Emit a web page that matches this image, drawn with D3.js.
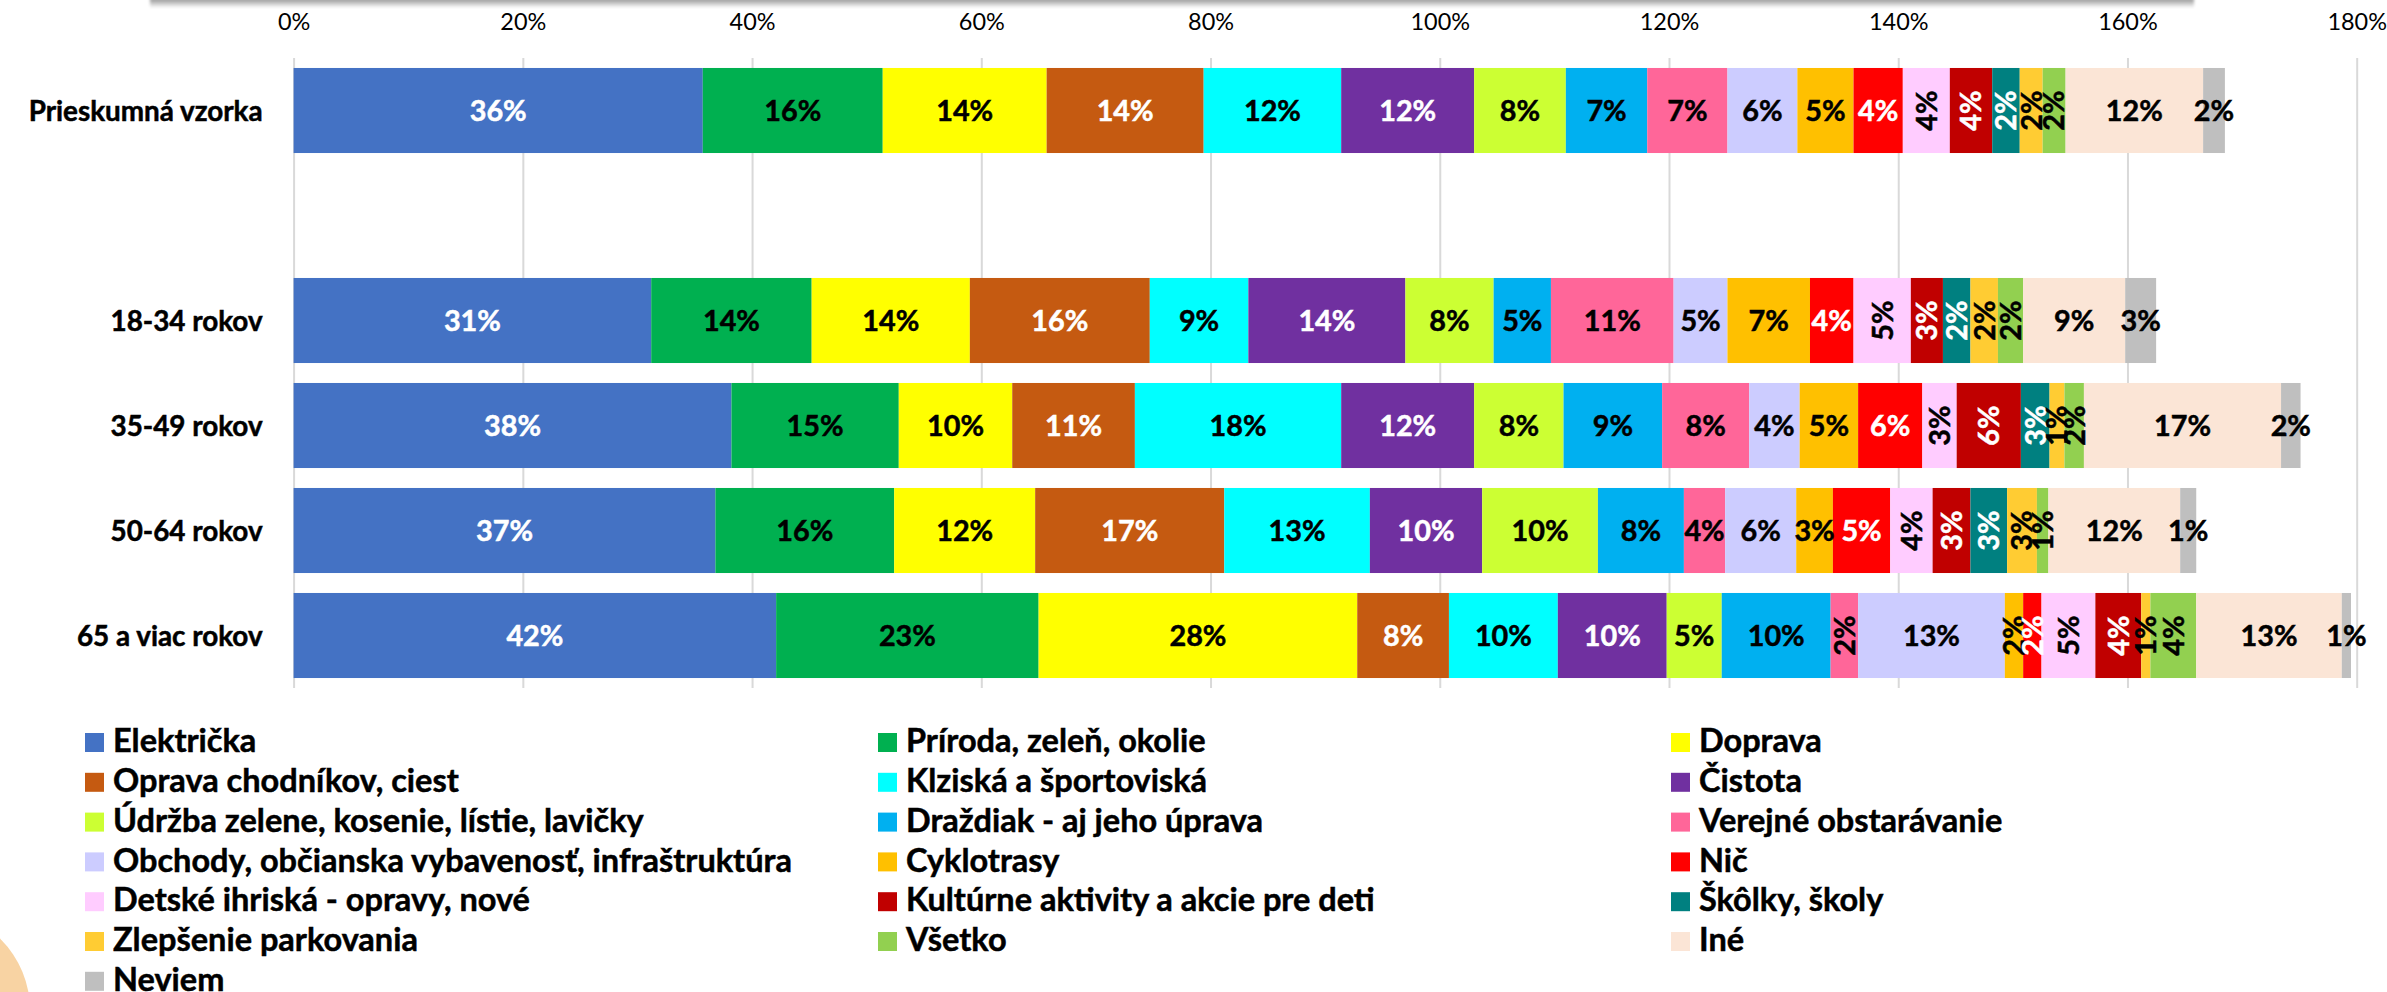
<!DOCTYPE html>
<html>
<head>
<meta charset="utf-8">
<script src="https://cdn.jsdelivr.net/npm/d3@7"></script>
<style>
  body { margin: 0; background: #fff; }
  #chart text { font-family: Lato, "Open Sans", sans-serif; }
</style>
</head>
<body>
<div id="chart"></div>
<script>
// kategórie (prázdna = medzera medzi vzorkou a vekovými skupinami)
const categories = ["Prieskumná vzorka", "", "18-34 rokov", "35-49 rokov", "50-64 rokov", "65 a viac rokov"]

const series = [
  "Električka", "Príroda, zeleň, okolie", "Doprava",
  "Oprava chodníkov, ciest", "Klziská a športoviská", "Čistota",
  "Údržba zelene, kosenie, lístie, lavičky", "Draždiak - aj jeho úprava", "Verejné obstarávanie",
  "Obchody, občianska vybavenosť, infraštruktúra", "Cyklotrasy", "Nič",
  "Detské ihriská - opravy, nové", "Kultúrne aktivity a akcie pre deti", "Škôlky, školy",
  "Zlepšenie parkovania", "Všetko", "Iné",
  "Neviem"
]

const colors = [
  "#4472C4", "#00B050", "#FFFF00",
  "#C55A11", "#00FFFF", "#7030A0",
  "#CCFF33", "#00B0F0", "#FF6699",
  "#CCCCFF", "#FFC000", "#FF0000",
  "#FFCCFF", "#C00000", "#008080",
  "#FFCC33", "#92D050", "#FBE5D6",
  "#BFBFBF"
]

// hodnoty v % (poradie ako series)
const vzorka = [35.7, 15.7, 14.3, 13.7, 12.0, 11.6, 8.0, 7.1, 7.0, 6.1, 4.9, 4.3, 4.1, 3.7, 2.4, 2.0, 2.0, 12.0, 1.9]
const vek18_34 = [31.2, 14.0, 13.8, 15.7, 8.6, 13.7, 7.7, 5.0, 10.7, 4.7, 7.2, 3.8, 5.0, 2.8, 2.4, 2.4, 2.2, 8.9, 2.7]
const vek35_49 = [38.2, 14.6, 9.9, 10.7, 18.0, 11.6, 7.8, 8.6, 7.6, 4.4, 5.1, 5.6, 3.0, 5.6, 2.5, 1.3, 1.7, 17.2, 1.7]
const vek50_64 = [36.8, 15.6, 12.3, 16.5, 12.7, 9.8, 10.1, 7.5, 3.6, 6.2, 3.2, 5.0, 3.7, 3.3, 3.2, 2.6, 1.0, 11.5, 1.4]
const vek65 = [42.1, 22.9, 27.8, 8.0, 9.5, 9.5, 4.8, 9.5, 2.4, 12.8, 1.6, 1.6, 4.7, 4.0, 0, 0.8, 4.0, 12.7, 0.8]
const empty = series.map(() => 0)

const values = [vzorka, empty, vek18_34, vek35_49, vek50_64, vek65]
const xTicks = [0, 20, 40, 60, 80, 100, 120, 140, 160, 180]

// štýl popisov
const whiteLabels = [0, 3, 5, 11, 13, 14]
const rotatedSeries = [12, 13, 14, 15, 16]

// rozmery
const width = 2387
const height = 992
const plot = { left: 293.6, right: 2356.7, top: 58, bottom: 688 }

const svg = d3.select("#chart").append("svg").attr("width", width).attr("height", height)

// veľkosť písma podľa šírky vzorového textu (náhrada za Calibri)
function fitSize(sample, target, weight) {
  const t = svg.append("text").text(sample).attr("font-size", 100).attr("font-weight", weight)
  const w = t.node().getComputedTextLength()
  t.remove()
  return 100 * target / w
}
const tickSize = fitSize("20%", 46, "normal")
const catSize = fitSize("Prieskumná vzorka", 234, "bold")
const barSize = fitSize("31%", 57, "bold")
const legendSize = fitSize("Obchody, občianska vybavenosť, infraštruktúra", 679, "bold")

// tieň z hornej časti snímky + dekoratívny kruh
const defs = svg.append("defs")
const grad = defs.append("linearGradient").attr("id", "shadow").attr("x1", 0).attr("y1", 0).attr("x2", 0).attr("y2", 1)
grad.append("stop").attr("offset", "0%").attr("stop-color", "#8a8a8a")
grad.append("stop").attr("offset", "100%").attr("stop-color", "#ffffff")
defs.append("filter").attr("id", "blur").append("feGaussianBlur").attr("stdDeviation", 1.5)
svg.append("rect").attr("x", 150).attr("y", -2).attr("width", 2044).attr("height", 10)
  .attr("fill", "url(#shadow)").attr("filter", "url(#blur)")
svg.append("circle").attr("cx", -70).attr("cy", 1010).attr("r", 100).attr("fill", "#F8D3A3")

const gridGroup = svg.append("g").attr("id", "gridGroup")
const elementGroup = svg.append("g").attr("id", "elementGroup")
const labelGroup = svg.append("g").attr("id", "labelGroup")
const xAxisGroup = svg.append("g").attr("id", "xAxisGroup").attr("transform", `translate(0, ${plot.top})`)
const yAxisGroup = svg.append("g").attr("id", "yAxisGroup").attr("transform", `translate(${plot.left}, 0)`)
const legendGroup = svg.append("g").attr("id", "legendGroup")

// škály
const x = d3.scaleLinear().domain([0, 180]).range([plot.left, plot.right])
const y = d3.scaleBand().domain(categories).range([plot.top, plot.bottom]).paddingInner(0.19).paddingOuter(0.095)

// mriežka
gridGroup.attr("transform", `translate(0, ${plot.top})`)
  .call(d3.axisBottom(x).tickValues(xTicks).tickSize(plot.bottom - plot.top).tickFormat(""))
gridGroup.select(".domain").remove()
gridGroup.selectAll("line").attr("stroke", "#D9D9D9").attr("stroke-width", 2)

// osi
xAxisGroup.call(d3.axisTop(x).tickValues(xTicks).tickSize(0).tickPadding(28).tickFormat(d => d + "%"))
xAxisGroup.select(".domain").remove()
xAxisGroup.selectAll("text").attr("font-size", tickSize).attr("fill", "#000")

yAxisGroup.call(d3.axisLeft(y).tickSize(0).tickPadding(31))
yAxisGroup.select(".domain").remove()
yAxisGroup.selectAll("text").attr("font-size", catSize).attr("font-weight", "bold").attr("fill", "#000")
  .attr("stroke", "#000").attr("stroke-width", 0.5).attr("dy", "0.36em")

// stack
const rows = categories.map((c, i) => {
  const row = { cat: c }
  series.forEach((s, j) => { row[j] = values[i][j] })
  return row
})
const stacked = d3.stack().keys(series.map((s, j) => j))(rows)

const segments = []
stacked.forEach((layer, j) => {
  layer.forEach(d => {
    const v = d[1] - d[0]
    if (v > 0) segments.push({ s: j, cat: d.data.cat, x0: d[0], x1: d[1], v: v })
  })
})

elementGroup.selectAll("rect").data(segments).enter().append("rect")
  .attr("x", d => x(d.x0))
  .attr("y", d => y(d.cat))
  .attr("width", d => x(d.x1) - x(d.x0))
  .attr("height", y.bandwidth())
  .attr("fill", d => colors[d.s])

// popisy hodnôt
labelGroup.selectAll("text").data(segments).enter().append("text")
  .text(d => Math.round(d.v) + "%")
  .attr("font-size", barSize)
  .attr("font-weight", "bold")
  .attr("text-anchor", "middle")
  .attr("dy", "0.36em")
  .attr("fill", d => whiteLabels.includes(d.s) ? "#fff" : "#000")
  .attr("stroke", d => whiteLabels.includes(d.s) ? "#fff" : "#000")
  .attr("stroke-width", 0.5)
  .attr("transform", d => {
    const cx = (x(d.x0) + x(d.x1)) / 2
    const cy = y(d.cat) + y.bandwidth() / 2
    const w = x(d.x1) - x(d.x0)
    const rot = rotatedSeries.includes(d.s) || (w < 30 && d.s !== series.length - 1)
    return `translate(${cx}, ${cy})` + (rot ? " rotate(-90)" : "")
  })

// legenda
const legend = legendGroup.selectAll("g").data(series).enter().append("g")
  .attr("transform", (d, i) => `translate(${85 + (i % 3) * 793}, ${742.5 + Math.floor(i / 3) * 39.8})`)
legend.append("rect").attr("x", 0).attr("y", -9.5).attr("width", 19).attr("height", 19).attr("fill", (d, i) => colors[i])
legend.append("text").text(d => d).attr("x", 28).attr("dy", "0.3em")
  .attr("font-size", legendSize).attr("font-weight", "bold").attr("fill", "#000")
  .attr("stroke", "#000").attr("stroke-width", 0.5)
</script>
</body>
</html>
